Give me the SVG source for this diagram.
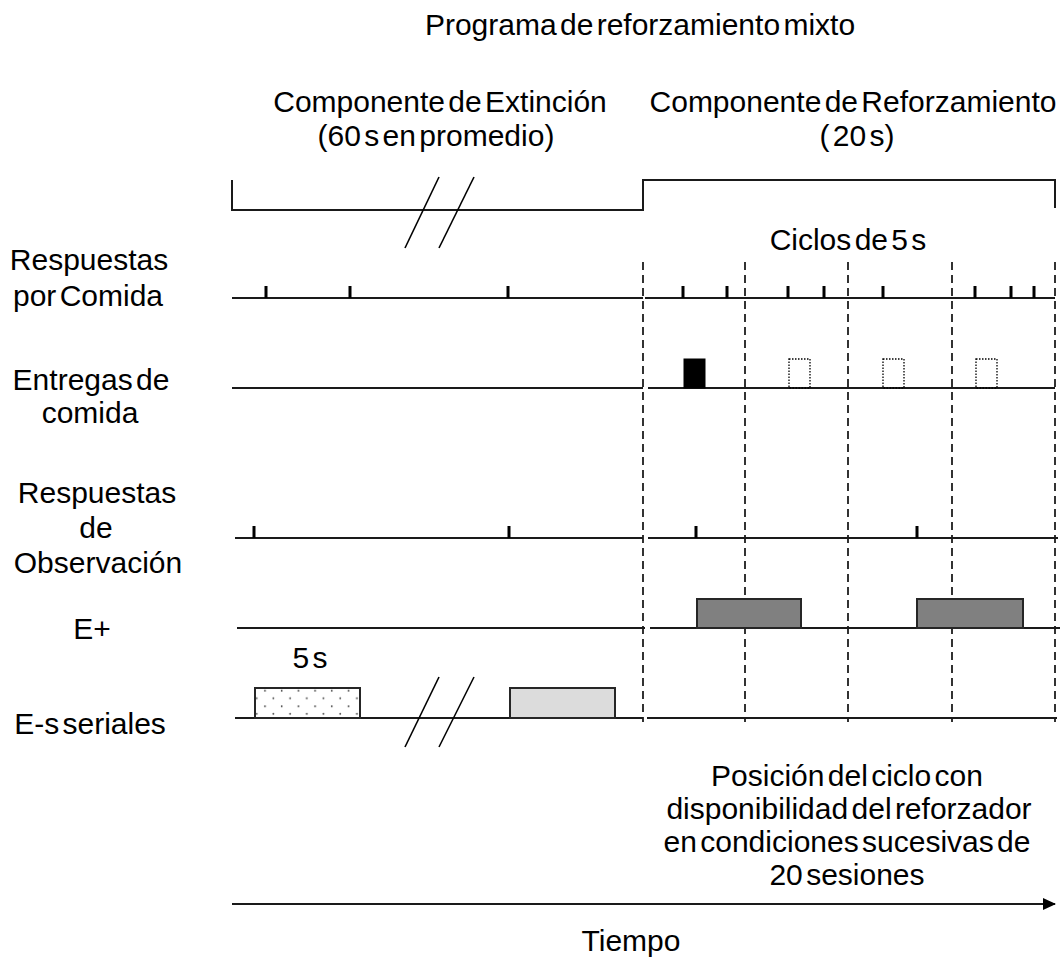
<svg xmlns="http://www.w3.org/2000/svg" width="1064" height="978" viewBox="0 0 1064 978">
<style>
text{font-family:"Liberation Sans",Arial,sans-serif;font-size:30px;fill:#000;word-spacing:-5px}
.c{text-anchor:middle}
.ln{stroke:#1a1a1a;stroke-width:2;fill:none}
.tk{stroke:#000;stroke-width:3;fill:none}
.dash{stroke:#000;stroke-width:1.6;stroke-dasharray:8,5;fill:none}
.brk{stroke:#000;stroke-width:1.6;fill:none}
.fd{fill:none;stroke:#000;stroke-width:1.3;stroke-dasharray:1.5,1.5}
</style>
<defs>
<pattern id="dots" patternUnits="userSpaceOnUse" x="252.5" y="686.8" width="16.7" height="15.6">
<circle cx="12.5" cy="3.9" r="0.9" fill="#444"/>
<circle cx="4.2" cy="11.5" r="0.9" fill="#444"/>
</pattern>
<marker id="arr" markerWidth="13" markerHeight="12" refX="12" refY="6" orient="auto" markerUnits="userSpaceOnUse">
<path d="M0,0 L13,6 L0,12 Z" fill="#000"/>
</marker>
</defs>
<rect width="1064" height="978" fill="#fff"/>

<g id="titles">
<text class="c" x="640" y="35">Programa de reforzamiento mixto</text>
<text class="c" x="440" y="112">Componente de Extinción</text>
<text class="c" x="436" y="146">(60 s en promedio)</text>
<text class="c" x="853" y="112">Componente de Reforzamiento</text>
<text class="c" x="857" y="146">( 20 s)</text>
<text class="c" x="848" y="250">Ciclos de 5 s</text>
</g>

<g id="labels">
<text class="c" x="89" y="270">Respuestas</text>
<text class="c" x="88" y="306">por Comida</text>
<text class="c" x="91" y="390">Entregas de</text>
<text class="c" x="90" y="423">comida</text>
<text class="c" x="97" y="503">Respuestas</text>
<text class="c" x="96" y="538">de</text>
<text class="c" x="98" y="573">Observación</text>
<text class="c" x="92" y="639">E+</text>
<text class="c" x="90" y="734">E-s seriales</text>
</g>

<g id="bracket">
<polyline class="ln" points="232,180 232,210 643,210 643,180 1055,180 1055,208"/>
<line class="brk" x1="405" y1="248" x2="439" y2="177"/>
<line class="brk" x1="439" y1="248" x2="474" y2="177"/>
</g>

<g id="cycles">
<line class="dash" x1="643" y1="262" x2="643" y2="722"/>
<line class="dash" x1="745" y1="262" x2="745" y2="722"/>
<line class="dash" x1="848" y1="262" x2="848" y2="722"/>
<line class="dash" x1="952" y1="262" x2="952" y2="722"/>
<line class="dash" x1="1055" y1="262" x2="1055" y2="722"/>
</g>

<g id="respuestas-comida">
<line class="ln" x1="232" y1="298" x2="643" y2="298"/>
<line class="ln" x1="645" y1="298" x2="1055" y2="298"/>
<path class="tk" d="M266,286V298M350,286V298M508,286V298M683,286V298M727,286V298M788,286V298M824,286V298M883,286V298M975,286V298M1011,286V298M1034,286V298"/>
</g>

<g id="entregas">
<line class="ln" x1="232" y1="388" x2="643" y2="388"/>
<line class="ln" x1="648" y1="388" x2="1055" y2="388"/>
<rect x="684" y="359" width="21" height="29" fill="#000" stroke="#000" stroke-width="1"/>
<rect class="fd" x="789" y="359" width="21" height="29"/>
<rect class="fd" x="883" y="359" width="21" height="29"/>
<rect class="fd" x="976" y="359" width="21" height="29"/>
</g>

<g id="observacion">
<line class="ln" x1="235" y1="538" x2="643" y2="538"/>
<line class="ln" x1="648" y1="538" x2="1058" y2="538"/>
<path class="tk" d="M254,526V538M509,526V538M696,526V538M917,526V538"/>
</g>

<g id="e-plus">
<line class="ln" x1="237" y1="628" x2="645" y2="628"/>
<line class="ln" x1="650" y1="628" x2="1060" y2="628"/>
<rect x="697" y="599" width="104" height="29" fill="#808080" stroke="#262626" stroke-width="2"/>
<rect x="917" y="599" width="106" height="29" fill="#808080" stroke="#262626" stroke-width="2"/>
</g>

<g id="e-s">
<text class="c" x="310" y="668">5 s</text>
<line class="ln" x1="235" y1="718" x2="643" y2="718"/>
<line class="ln" x1="647" y1="718" x2="1057" y2="718"/>
<rect x="255" y="688" width="105" height="30" fill="url(#dots)" stroke="#262626" stroke-width="2"/>
<rect x="510" y="688" width="105" height="30" fill="#dcdcdc" stroke="#262626" stroke-width="2"/>
<line class="brk" x1="405" y1="747" x2="439" y2="677"/>
<line class="brk" x1="439" y1="747" x2="474" y2="677"/>
</g>

<g id="nota">
<text class="c" x="847" y="786">Posición del ciclo con</text>
<text class="c" x="849" y="819">disponibilidad del reforzador</text>
<text class="c" x="847" y="852">en condiciones sucesivas de</text>
<text class="c" x="847" y="885">20 sesiones</text>
</g>

<g id="tiempo">
<line class="ln" x1="232" y1="904" x2="1055" y2="904" marker-end="url(#arr)"/>
<text class="c" x="631" y="951">Tiempo</text>
</g>
</svg>
